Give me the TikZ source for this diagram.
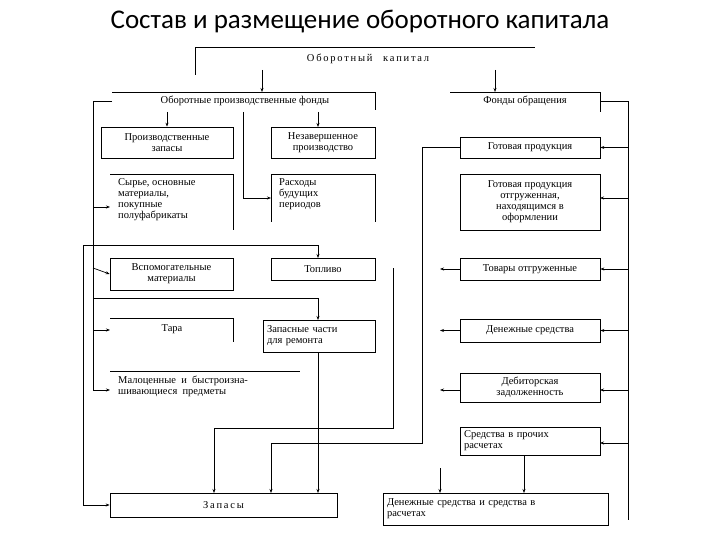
\documentclass[tikz,border=0pt]{standalone}
\usepackage{fontspec}
\newfontfamily\bodyfont{Liberation Serif}
\newfontfamily\titlefont{Carlito}
\usetikzlibrary{arrows.meta}
\begin{document}
\begin{tikzpicture}[x=1pt,y=-1pt,
  ln/.style={line width=0.7pt},
  ar/.style={ln,-{Stealth[length=4pt,width=3pt]}},
  bx/.style={draw,line width=0.7pt,inner sep=0pt,align=center,font=\bodyfont\fontsize{10.5}{11}\selectfont},
  tx/.style={inner sep=0pt,align=left,font=\bodyfont\fontsize{10.5}{11}\selectfont}]
\useasboundingbox (0,0) rectangle (720,540);
\node[font=\titlefont\fontsize{27}{30}\selectfont] (title) at (360,22) {Состав и размещение оборотного капитала};
% top
\draw[ln] (195,75) -- (195,47) -- (535,47);
\node[tx] (ok) at (368,59) {О\,б\,о\,р\,о\,т\,н\,ы\,й\quad к\,а\,п\,и\,т\,а\,л};
\coordinate (a1) at (262,70); \coordinate (a1e) at (262,92);
\coordinate (a2) at (495,70); \coordinate (a2e) at (495,92);
\draw[ar] (a1) -- (a1e); \draw[ar] (a2) -- (a2e);
% OPF
\draw[ln] (112,92) -- (375,92) -- (375,110);
\node[tx] (opf) at (245,101) {Оборотные производственные фонды};
\draw[ln] (112,101) -- (93,101) -- (93,390);
% Fonds obrashcheniya
\draw[ln] (450,92) -- (600,92) -- (600,112);
\node[tx] (fo) at (525,101) {Фонды обращения};
\draw[ln] (600,101) -- (628,101) -- (628,520);
% production boxes
\node[bx,minimum width=132,minimum height=31] (pz) at (167,142.5) {Производственные\\запасы};
\node[bx,minimum width=104,minimum height=31] (nz) at (323,142.5) {Незавершенное\\производство};
\draw[ar] (167,112) -- (pz.north);
\draw[ar] (318,112) -- (318,127);
\draw[ln] (110,174) -- (233,174) -- (233,230);
\node[tx,anchor=north west] (syr) at (118,178) {Сырье, основные\\материалы,\\покупные\\полуфабрикаты};
\draw[ln] (271,222) -- (271,174) -- (375,174) -- (375,222);
\node[tx,anchor=north west] (rbp) at (279,178) {Расходы\\будущих\\периодов};
\draw[ar] (243,112) -- (243,198) -- (271,198);
\node[bx,minimum width=123,minimum height=32] (vm) at (171.5,274) {Вспомогательные\\материалы};
\node[bx,minimum width=104,minimum height=22] (top) at (323,269) {Топливо};
\draw[ln] (110,318) -- (233,318) -- (233,342);
\node[tx] (tara) at (172,329) {Тара};
\node[bx,minimum width=112,minimum height=32,align=left,text width=104] (zch) at (319,336) {Запасные части\\для ремонта};
\draw[ln] (110,371) -- (300,371);
\node[tx,anchor=north west] (mal) at (118,376) {Малоценные\ \ и\ \ быстроизна-\\шивающиеся\ \ предметы};
\node[bx,minimum width=227,minimum height=24] (zap) at (223.5,505) {З\,а\,п\,а\,с\,ы};
% left arrows
\draw[ar] (93,207) -- (110,207);
\draw[ar] (93,268) -- (vm.west);
\draw[ar] (93,330) -- (110,330);
\draw[ar] (93,390) -- (110,390);
\draw[ar] (83,505) -- (zap.west);
\draw[ln] (83,505) -- (83,245) -- (318,245);
\draw[ar] (318,245) -- (318,258);
\draw[ar] (93,298) -- (318,298) -- (318,320);
\draw[ar] (318,352) -- (318,493);
% right boxes
\node[bx,minimum width=140,minimum height=21] (gp) at (530,147.5) {Готовая продукция};
\node[bx,minimum width=140,minimum height=56] (gpo) at (530,202) {Готовая продукция\\отгруженная,\\находящимся в\\оформлении};
\node[bx,minimum width=140,minimum height=22] (tov) at (530,269) {Товары отгруженные};
\node[bx,minimum width=140,minimum height=23] (den) at (530,330.5) {Денежные средства};
\node[bx,minimum width=140,minimum height=29] (deb) at (530,387.5) {Дебиторская\\задолженность};
\node[bx,minimum width=140,minimum height=28,align=left,text width=132] (spr) at (530,441) {Средства в прочих\\расчетах};
\node[bx,minimum width=225,minimum height=32,align=left,text width=217] (dsr) at (495.5,509) {Денежные средства и средства в\\расчетах};
\draw[ar] (628,147.5) -- (gp.east);
\draw[ar] (628,198) -- (600,198);
\draw[ar] (628,269) -- (tov.east);
\draw[ar] (628,330.5) -- (den.east);
\draw[ar] (628,390) -- (600,390);
\draw[ar] (628,443) -- (600,443);
\draw[ar] (tov.west) -- (440,269);
\draw[ar] (den.west) -- (440,330.5);
\draw[ar] (460,390) -- (440,390);
\draw[ar] (440,468) -- (440,493);
\draw[ar] (524,455) -- (524,493);
% links to Zapasy
\draw[ar] (393,268) -- (393,428) -- (214,428) -- (214,493);
\draw[ar] (gp.west) -- (422,147.5) -- (422,443) -- (271,443) -- (271,493);
\end{tikzpicture}
\end{document}
